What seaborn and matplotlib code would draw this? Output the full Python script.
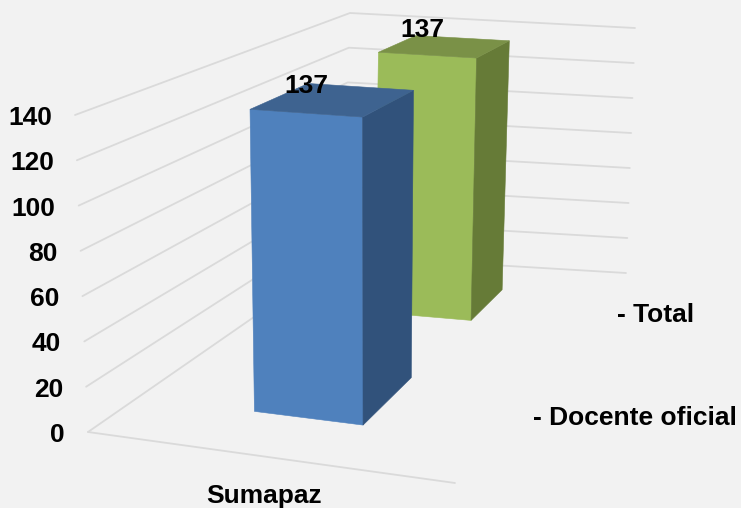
import numpy as np
import pandas as pd
import matplotlib
matplotlib.use("Agg")
import matplotlib.pyplot as plt
import seaborn as sns

# data
categories = ["Sumapaz"]
series_names = ["Total", "Docente oficial"]
total_values = [137]
docente_values = [137]
tick_values = [0, 20, 40, 60, 80, 100, 120, 140]

# colours per series: front, side, top
series_colors = {
    "Total": ("#9BBB59", "#667B37", "#7A9147"),
    "Docente oficial": ("#4F81BD", "#31527B", "#3E6390"),
}
# bar footprints inside the floor (u across, d into the page)
footprints = {
    "Total": (0.33, 0.645, 0.73, 0.885),
    "Docente oficial": (0.33, 0.64, 0.20, 0.44),
}
label_offsets = {"Total": (-23, -10), "Docente oficial": (-27, -7)}
legend_pos = {"Total": (617, 322), "Docente oficial": (533, 425)}

# corners of the 3d box as they land on the picture, value 0 then value max
floor_corners = np.array([[88, 432], [455, 483], [342, 256], [626, 273]], dtype=float)
top_corners = np.array([[75, 115], [458, 142], [350, 13], [635, 28]], dtype=float)
v_max = tick_values[-1]


def project(u, d, value):
    """Maps box coordinates (u, d, value) to picture pixels."""
    w = np.array([(1 - u) * (1 - d), u * (1 - d), (1 - u) * d, u * d])
    low = w @ floor_corners
    high = w @ top_corners
    t = value / v_max
    return low + (high - low) * t


def draw_bar(ax, name, value):
    u0, u1, d0, d1 = footprints[name]
    front, side, top = series_colors[name]
    faces = [
        ([(u0, d0, 0), (u1, d0, 0), (u1, d0, value), (u0, d0, value)], front),
        ([(u1, d0, 0), (u1, d1, 0), (u1, d1, value), (u1, d0, value)], side),
        ([(u0, d0, value), (u1, d0, value), (u1, d1, value), (u0, d1, value)], top),
    ]
    for corners, color in faces:
        pts = np.array([project(*c) for c in corners])
        ax.fill(pts[:, 0], pts[:, 1], color=color, lw=0.4, zorder=3)
    label = project((u0 + u1) / 2, (d0 + d1) / 2, value) + np.array(label_offsets[name])
    ax.text(label[0], label[1], str(value), ha="center", va="baseline", zorder=5,
            fontsize=FONT, fontweight="bold", color="black")


sns.set_style("white")
plt.rcParams["font.family"] = ["Liberation Sans", "DejaVu Sans"]
plt.rcParams["text.color"] = "black"
FONT = 19
BG = "#F2F2F2"

fig = plt.figure(figsize=(7.41, 5.08), dpi=100, facecolor=BG)
ax = fig.add_axes([0, 0, 1, 1], facecolor=BG)

# wall grid lines
rows = []
for v in tick_values:
    for i, (u, d) in enumerate([(0, 0), (0, 1), (1, 1)]):
        x, y = project(u, d, v)
        rows.append({"x": x, "y": y, "line": v, "order": i})
# front edge of the floor
for i, u in enumerate([0, 1]):
    x, y = project(u, 0, 0)
    rows.append({"x": x, "y": y, "line": -1, "order": i})
grid = pd.DataFrame(rows)
sns.lineplot(data=grid, x="x", y="y", units="line", estimator=None, sort=False,
             color="#DADADA", linewidth=1.3, ax=ax, zorder=1, legend=False)

draw_bar(ax, "Total", total_values[0])
draw_bar(ax, "Docente oficial", docente_values[0])

# value axis labels follow the slanted front edge
for v in tick_values:
    x, y = project(0, 0, v)
    ax.text(x - 23, y + 10, str(v), ha="right", va="baseline", fontsize=FONT, fontweight="bold")

ax.text(264.5, 503, categories[0], ha="center", va="baseline", fontsize=FONT, fontweight="bold")
for name in series_names:
    x, y = legend_pos[name]
    ax.text(x, y, f"- {name}", ha="left", va="baseline", fontsize=FONT, fontweight="bold")

ax.set_xlim(0, 741)
ax.set_ylim(508, 0)
ax.set_axis_off()
fig.savefig("out.png", dpi=100, facecolor=BG)
